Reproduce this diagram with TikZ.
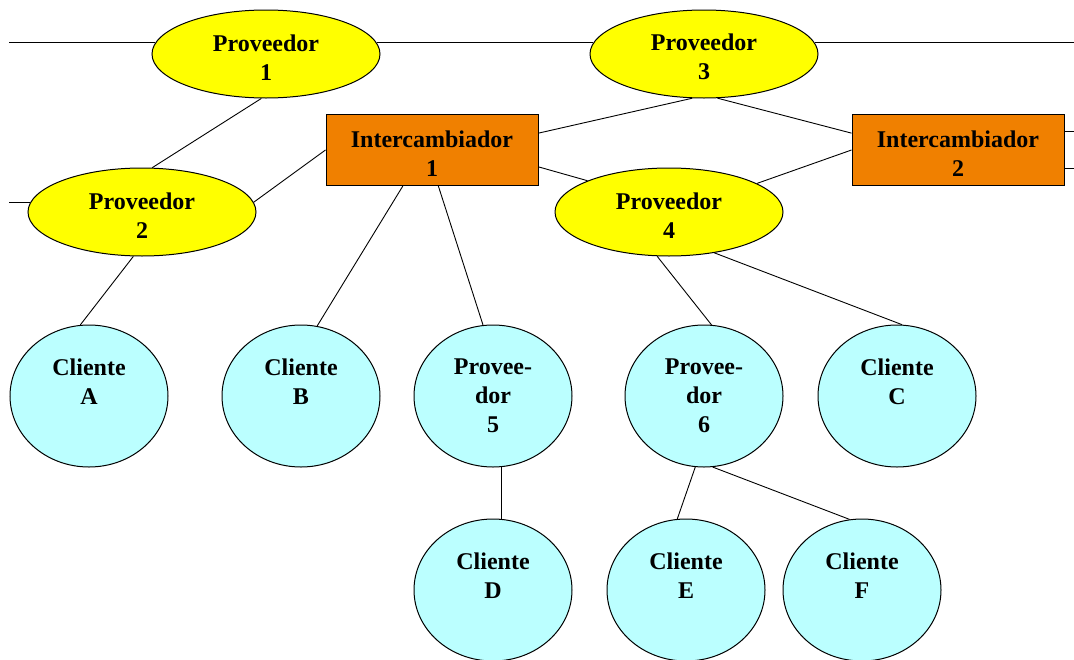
\documentclass[tikz,border=0pt]{standalone}
\usepackage{fontspec}
\setmainfont{Liberation Serif}
\usetikzlibrary{shapes.geometric}
\definecolor{provY}{RGB}{255,255,0}
\definecolor{interO}{RGB}{240,128,0}
\definecolor{cliC}{RGB}{187,255,255}
\newcommand{\myup}{\rule{0pt}{23pt}}
\begin{document}
\begin{tikzpicture}[x=1pt,y=-1pt,
  base/.style={draw=black, line width=1pt, inner sep=0pt, align=center,
    font=\fontsize{24}{29}\selectfont\bfseries},
  prov/.style={base, ellipse, fill=provY, minimum width=228pt, minimum height=88pt},
  inter/.style={base, rectangle, fill=interO, minimum width=212pt, minimum height=71pt},
  cli/.style={base, ellipse, fill=cliC, minimum width=158pt, minimum height=142pt},
  link/.style={draw=black, line width=0.9pt}]
\useasboundingbox (0,0) rectangle (1074,659);

% nodes
\node[prov] (p1) at (266,54) {\myup Proveedor\\1};
\node[prov] (p3) at (704,54) {\myup Proveedor\\3};
\node[prov] (p2) at (142,212) {\myup Proveedor\\2};
\node[prov] (p4) at (669,212) {\myup Proveedor\\4};
\node[inter] (i1) at (432,150) {\myup Intercambiador\\1};
\node[inter] (i2) at (958,150) {\myup Intercambiador\\2};

\node[cli] (cA) at (89,396) {Cliente\\A\\\phantom{A}};
\node[cli] (cB) at (301,396) {Cliente\\B\\\phantom{B}};
\node[cli] (p5) at (493,396) {Provee-\\dor\\5};
\node[cli] (p6) at (704,396) {Provee-\\dor\\6};
\node[cli] (cC) at (897,396) {Cliente\\C\\\phantom{C}};
\node[cli] (cD) at (493,590) {Cliente\\D\\\phantom{D}};
\node[cli] (cE) at (686,590) {Cliente\\E\\\phantom{E}};
\node[cli] (cF) at (862,590) {Cliente\\F\\\phantom{F}};

% free ends
\coordinate (tl) at (9,42);
\coordinate (ml) at (9,202);
\coordinate (redge) at (1074,0);

% connectors
\draw[link] (tl) -- (tl -| p1.174);
\draw[link] (p1.6) -- (p3.174);
\draw[link] (p3.6) -- (p3.6 -| redge);
\draw[link] (ml) -- (ml -| p2.175);
\draw[link] (p1.264) -- (p2.77);
\draw[link] (p2.5) -- (i1.west);
\draw[link] (i1.9) -- (p3.255);
\draw[link] (p3.287) -- (i2.171);
\draw[link] (i1.351) -- (p4.159);
\draw[link] (p4.18) -- (i2.west);
\draw[link] (i2.10) -- (i2.10 -| redge);
\draw[link] (i2.350) -- (i2.350 -| redge);
\draw[link] (i1.231) -- (cB.77);
\draw[link] (i1.280) -- (p5.98);
\draw[link] (p2.259) -- (cA.97);
\draw[link] (p4.255) -- (p6.84);
\draw[link] (p4.318) -- (cC.86);
\draw[link] (p5.277) -- (cD.83);
\draw[link] (p6.263) -- (cE.97);
\draw[link] (p6.277) -- (cF.100);
\end{tikzpicture}
\end{document}
